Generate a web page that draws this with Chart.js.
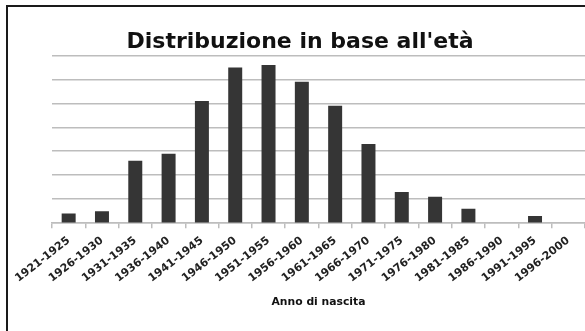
<!DOCTYPE html>
<html>
<head>
<meta charset="utf-8">
<script src="https://cdn.jsdelivr.net/npm/chart.js@4/dist/chart.umd.min.js"></script>
<style>
  html, body { margin: 0; padding: 0; background: #fff; overflow: hidden; }
  #frame { position: absolute; left: 0; top: 0; width: 585px; height: 331px; overflow: hidden; background: #fff; }
  .edge { position: absolute; background: #1a1a1a; }
  #wrap { position: absolute; left: 0; top: 0; width: 600px; height: 331px; }
</style>
</head>
<body>
<div id="frame">
  <div class="edge" style="left:6px; top:5px; width:2px; height:326px;"></div>
  <div class="edge" style="left:6px; top:5px; width:579px; height:2px;"></div>
  <div id="wrap"><canvas id="c"></canvas></div>
</div>
<script>
// Birth-year groups and number of people in each
const categories = ['1921-1925','1926-1930','1931-1935','1936-1940','1941-1945','1946-1950',
  '1951-1955','1956-1960','1961-1965','1966-1970','1971-1975','1976-1980',
  '1981-1985','1986-1990','1991-1995','1996-2000'];
const counts = [4, 5, 26, 29, 51, 65, 66, 59, 49, 33, 13, 11, 6, 0, 3, 0];

const titleText = "Distribuzione in base all'età";
const xAxisTitle = 'Anno di nascita';
const yMax = 70;
const yStep = 10;

const FONT = "'DejaVu Sans', sans-serif";

new Chart(document.getElementById('c'), {
  type: 'bar',
  data: {
    labels: categories,
    datasets: [{
      data: counts,
      backgroundColor: '#353535',
      borderWidth: 0,
      barPercentage: 0.42,
      categoryPercentage: 1.0
    }]
  },
  options: {
    responsive: true,
    maintainAspectRatio: false,
    animation: false,
    layout: { padding: { left: 15, right: 15, top: 29, bottom: 22 } },
    plugins: {
      legend: { display: false },
      tooltip: { enabled: false },
      title: {
        display: true,
        text: titleText,
        color: '#111',
        font: { family: FONT, weight: 'bold', size: 22 },
        padding: { top: 0, bottom: 0 }
      }
    },
    scales: {
      x: {
        grid: { display: true, drawOnChartArea: false, drawTicks: true, tickLength: 5, color: '#bdbdbd', lineWidth: 1.5 },
        border: { display: true, color: '#bdbdbd', width: 1.5 },
        ticks: {
          color: '#222',
          font: { family: FONT, weight: 'bold', size: 11 },
          maxRotation: 38, minRotation: 38, padding: 6, autoSkip: false
        },
        title: {
          display: true, text: xAxisTitle, color: '#111',
          font: { family: FONT, weight: 'bold', size: 10.8 },
          padding: { top: 5, bottom: 0 }
        }
      },
      y: {
        min: 0, max: yMax,
        ticks: { display: false, stepSize: yStep },
        grid: { color: '#bdbdbd', lineWidth: 1.5, drawTicks: false },
        border: { display: false },
        afterFit: (scale) => { scale.width = 37; }
      }
    }
  }
});
</script>
</body>
</html>
